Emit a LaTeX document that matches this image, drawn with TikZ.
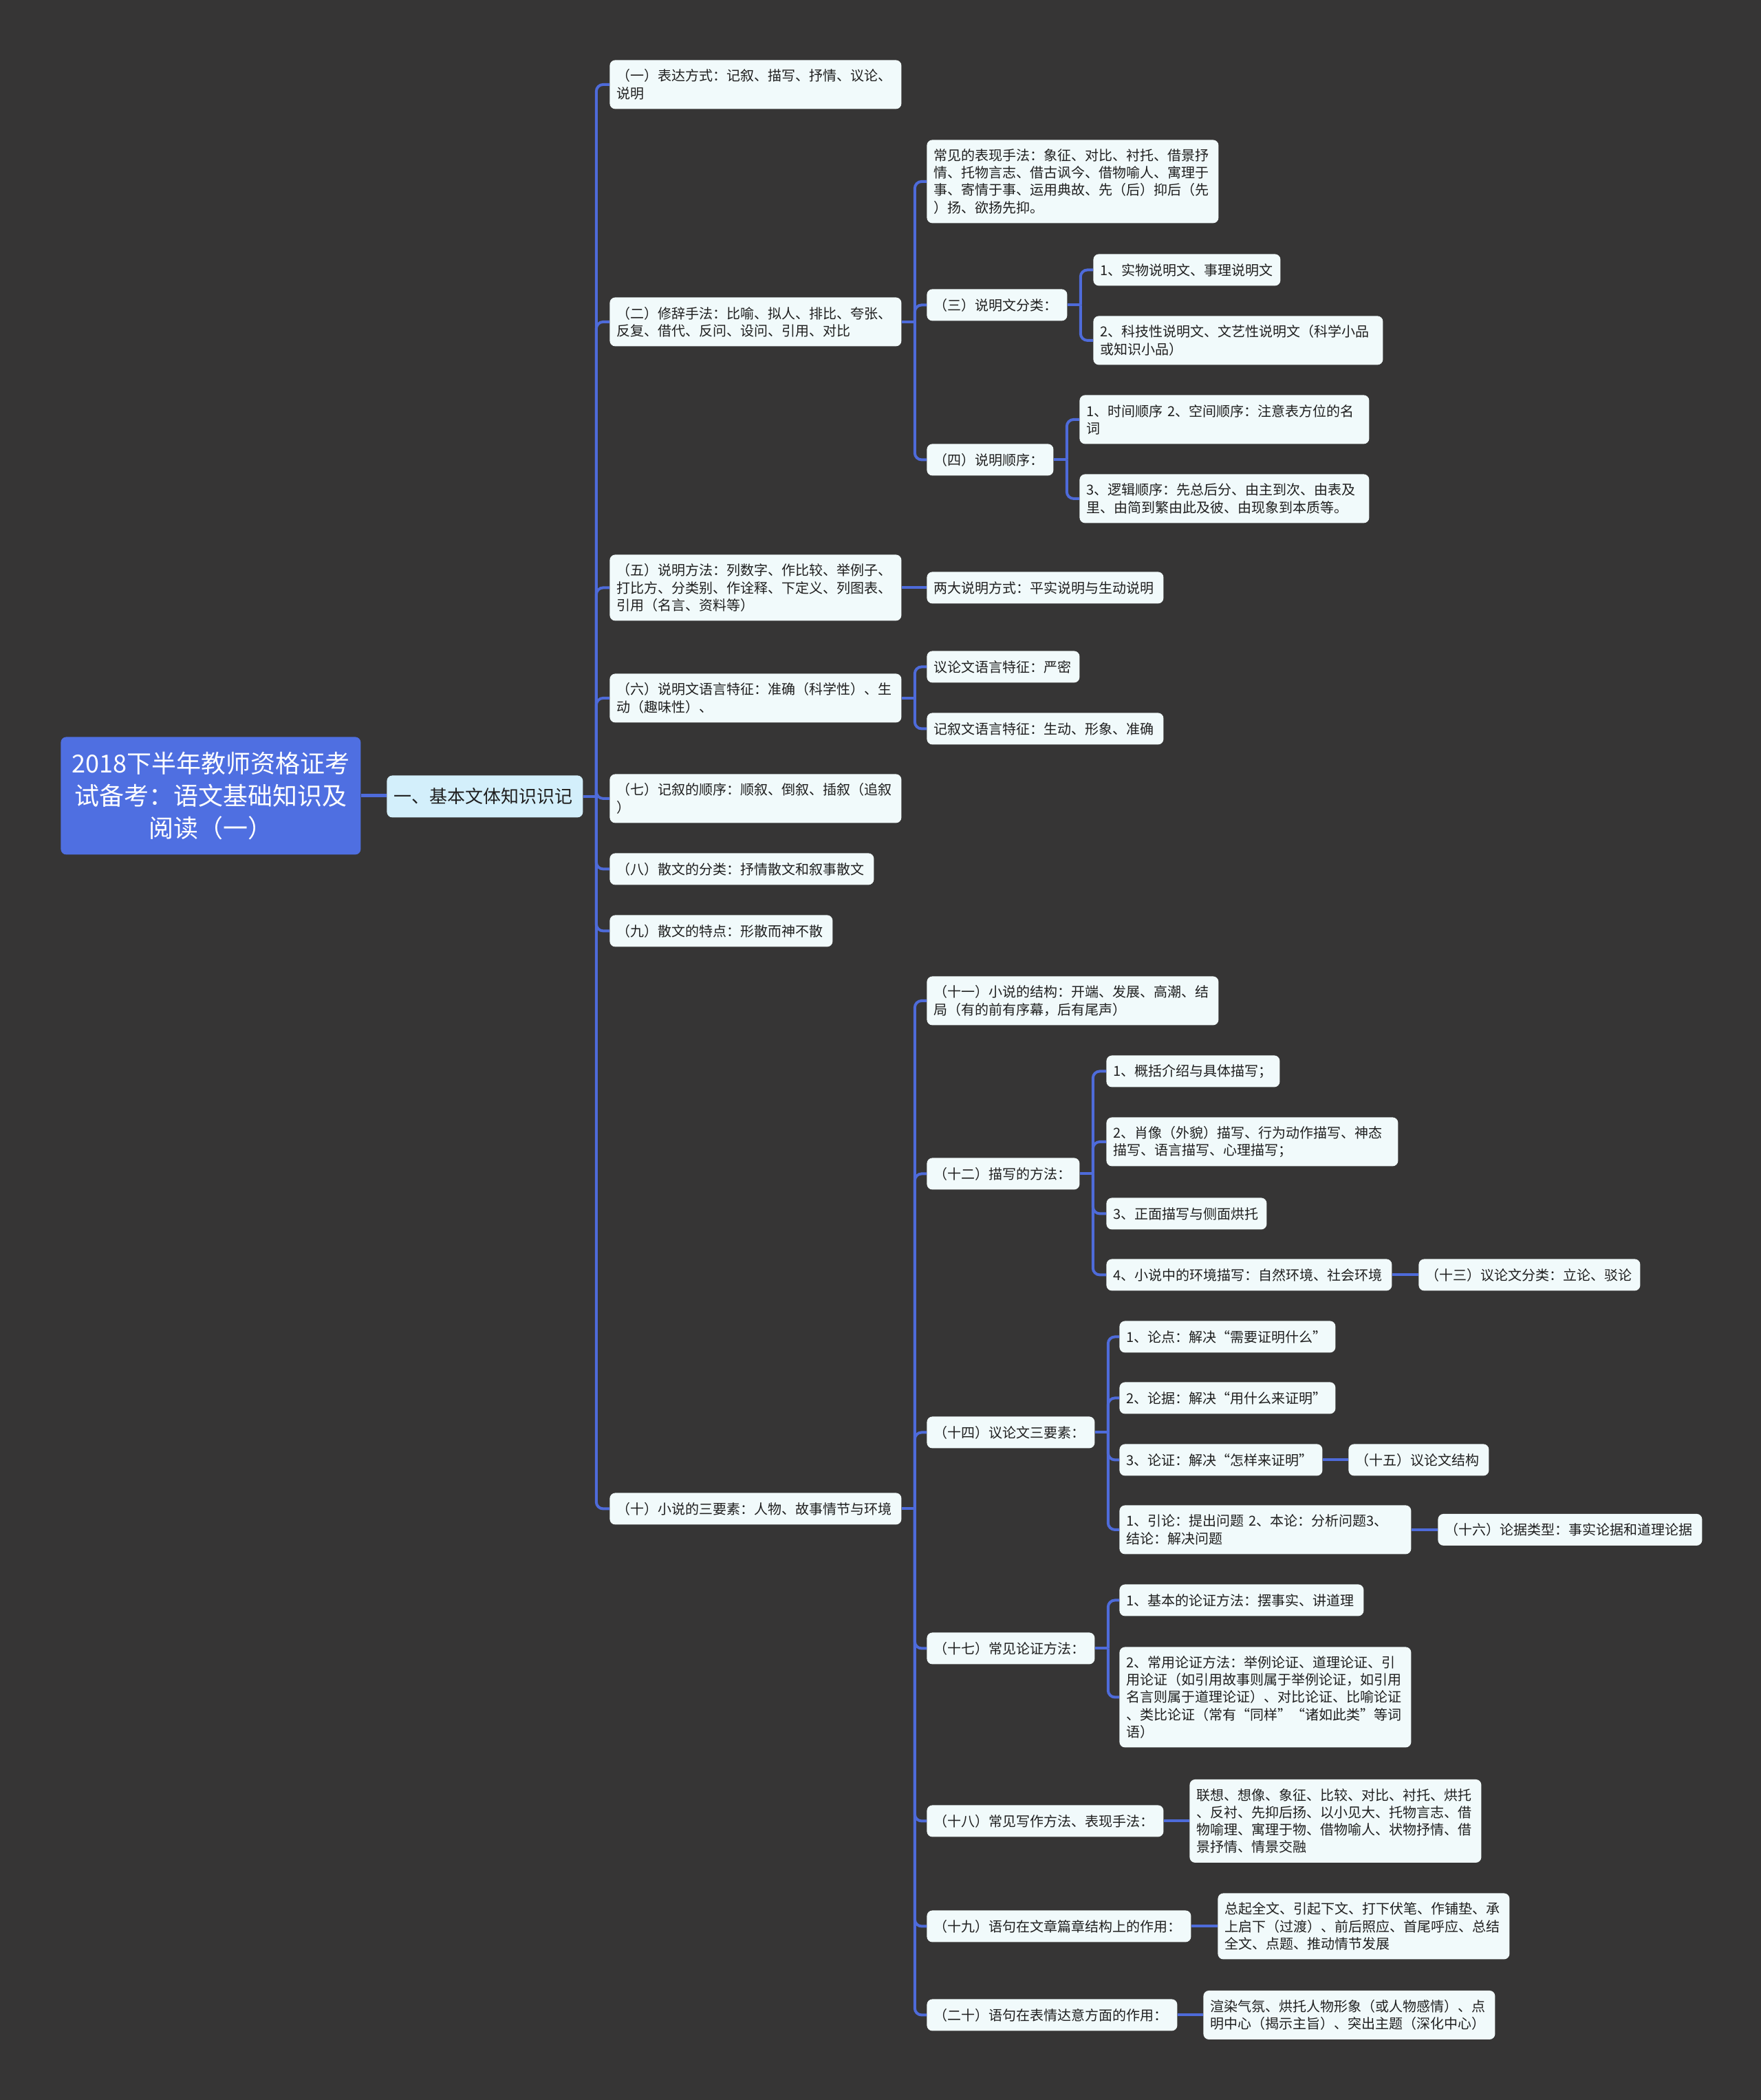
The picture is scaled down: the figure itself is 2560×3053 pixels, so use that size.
\documentclass[tikz,border=0pt]{standalone}
\usepackage{fontspec}
\newfontfamily\cjk{Noto Sans CJK SC}
\usetikzlibrary{calc}
\definecolor{bg}{HTML}{363535}
\definecolor{boxfill}{HTML}{F1FAFB}
\definecolor{lonefill}{HTML}{D3EFFB}
\definecolor{rootfill}{HTML}{4F6FE1}
\definecolor{linec}{HTML}{4E6BDA}
\definecolor{txt}{HTML}{1F1F1F}
\tikzset{
  box/.style={fill=boxfill, rounded corners=4pt, inner xsep=5pt, inner ysep=2pt, align=left, text=txt, font=\cjk\fontsize{10}{12.6}\selectfont},
  lonebox/.style={box, fill=lonefill, font=\cjk\fontsize{13}{16}\selectfont},
  rootbox/.style={box, fill=rootfill, text=white, align=center, font=\cjk\fontsize{18}{23.5}\selectfont},
  conn/.style={draw=linec, line width=2pt},
}
\newcommand\bx[7][box]{%
  \pgfmathsetmacro\bxtw{#5*0.5-10}%
  \node[#1, anchor=north west, minimum width={#5*0.5pt}, minimum height={#6*0.5pt}, text width=\bxtw pt] (#2) at (#3,#4) {#7};}
\newcommand\kids[2]{%
  \draw[conn] (#1.east) -- ++(19,0) coordinate (#1-s);
  \foreach \c in {#2} {\draw[conn, rounded corners=5pt] (#1-s) |- (\c.west);}}
\newcommand\onekid[2]{\draw[conn] (#1.east) -- (#1.east -| #2.west);}
\begin{document}
\begin{tikzpicture}[x=0.5pt,y=-0.5pt]
\fill[bg] (0,0) rectangle (2560,3053);
\useasboundingbox (0,0) rectangle (2560,3053);
% root and level 1
\bx[rootbox]{root}{88}{1071}{436}{171}{2018下半年教师资格证考\\试备考：语文基础知识及\\阅读（一）}
\bx[lonebox]{L1}{562}{1127}{285}{61}{一、基本文体知识识记}
% level 2
\bx{a1}{886}{87}{424}{71}{（一）表达方式：记叙、描写、抒情、议论、\\说明}
\bx{a2}{886}{432}{424}{71}{（二）修辞手法：比喻、拟人、排比、夸张、\\反复、借代、反问、设问、引用、对比}
\bx{a5}{886}{806}{424}{96}{（五）说明方法：列数字、作比较、举例子、\\打比方、分类别、作诠释、下定义、列图表、\\引用（名言、资料等）}
\bx{a6}{886}{979}{424}{71}{（六）说明文语言特征：准确（科学性）、生\\动（趣味性）、}
\bx{a7}{886}{1125}{424}{71}{（七）记叙的顺序：顺叙、倒叙、插叙（追叙\\）}
\bx{a8}{886}{1240}{384}{46}{（八）散文的分类：抒情散文和叙事散文}
\bx{a9}{886}{1330}{324}{46}{（九）散文的特点：形散而神不散}
\bx{a10}{886}{2170}{424}{46}{（十）小说的三要素：人物、故事情节与环境}
% under (二)
\bx{b1}{1347}{203}{424}{121}{常见的表现手法：象征、对比、衬托、借景抒\\情、托物言志、借古讽今、借物喻人、寓理于\\事、寄情于事、运用典故、先（后）抑后（先\\）扬、欲扬先抑。}
\bx{b3}{1347}{420}{204}{46}{（三）说明文分类：}
\bx{b4}{1347}{645}{184}{46}{（四）说明顺序：}
\bx{c31}{1589}{369}{272}{46}{1、实物说明文、事理说明文}
\bx{c32}{1589}{459}{421}{71}{2、科技性说明文、文艺性说明文（科学小品\\或知识小品）}
\bx{c41}{1569}{574}{421}{71}{1、时间顺序 2、空间顺序：注意表方位的名\\词}
\bx{c42}{1569}{689}{421}{71}{3、逻辑顺序：先总后分、由主到次、由表及\\里、由简到繁由此及彼、由现象到本质等。}
% under (五), (六)
\bx{b5}{1347}{831}{344}{46}{两大说明方式：平实说明与生动说明}
\bx{b61}{1347}{946}{222}{46}{议论文语言特征：严密}
\bx{b62}{1347}{1036}{344}{46}{记叙文语言特征：生动、形象、准确}
% under (十)
\bx{d11}{1347}{1419}{424}{71}{（十一）小说的结构：开端、发展、高潮、结\\局（有的前有序幕，后有尾声）}
\bx{d12}{1347}{1683}{222}{46}{（十二）描写的方法：}
\bx{d14}{1347}{2059}{244}{46}{（十四）议论文三要素：}
\bx{d17}{1347}{2373}{244}{46}{（十七）常见论证方法：}
\bx{d18}{1347}{2624}{344}{46}{（十八）常见写作方法、表现手法：}
\bx{d19}{1347}{2777}{384}{46}{（十九）语句在文章篇章结构上的作用：}
\bx{d20}{1347}{2906}{364}{46}{（二十）语句在表情达意方面的作用：}
% under (十二)
\bx{e1}{1608}{1534}{252}{46}{1、概括介绍与具体描写；}
\bx{e2}{1608}{1624}{424}{71}{2、肖像（外貌）描写、行为动作描写、神态\\描写、语言描写、心理描写；}
\bx{e3}{1608}{1741}{233}{46}{3、正面描写与侧面烘托}
\bx{e4}{1608}{1830}{415}{46}{4、小说中的环境描写：自然环境、社会环境}
\bx{e13}{2062}{1830}{322}{46}{（十三）议论文分类：立论、驳论}
% under (十四)
\bx{f1}{1627}{1920}{314}{46}{1、论点：解决“需要证明什么”}
\bx{f2}{1627}{2009}{314}{46}{2、论据：解决“用什么来证明”}
\bx{f3}{1627}{2099}{295}{46}{3、论证：解决“怎样来证明”}
\bx{f15}{1960}{2099}{204}{46}{（十五）议论文结构}
\bx{f4}{1627}{2188}{424}{71}{1、引论：提出问题 2、本论：分析问题3、\\结论：解决问题}
\bx{f16}{2090}{2200.5}{384}{46}{（十六）论据类型：事实论据和道理论据}
% under (十七)
\bx{g1}{1627}{2303}{355}{46}{1、基本的论证方法：摆事实、讲道理}
\bx{g2}{1627}{2394}{424}{146}{2、常用论证方法：举例论证、道理论证、引\\用论证（如引用故事则属于举例论证，如引用\\名言则属于道理论证）、对比论证、比喻论证\\、类比论证（常有“同样”“诸如此类”等词\\语）}
% under (十八)-(二十)
\bx{h18}{1729}{2586.5}{424}{121}{联想、想像、象征、比较、对比、衬托、烘托\\、反衬、先抑后扬、以小见大、托物言志、借\\物喻理、寓理于物、借物喻人、状物抒情、借\\景抒情、情景交融}
\bx{h19}{1770}{2752}{424}{96}{总起全文、引起下文、打下伏笔、作铺垫、承\\上启下（过渡）、前后照应、首尾呼应、总结\\全文、点题、推动情节发展}
\bx{h20}{1749}{2893.5}{424}{71}{渲染气氛、烘托人物形象（或人物感情）、点\\明中心（揭示主旨）、突出主题（深化中心）}
% connectors
\draw[conn, line width=2.5pt] (root.east) -- (root.east -| L1.west);
\kids{L1}{a1,a2,a5,a6,a7,a8,a9,a10}
\kids{a2}{b1,b3,b4}
\kids{b3}{c31,c32}
\kids{b4}{c41,c42}
\onekid{a5}{b5}
\kids{a6}{b61,b62}
\kids{a10}{d11,d12,d14,d17,d18,d19,d20}
\kids{d12}{e1,e2,e3,e4}
\onekid{e4}{e13}
\kids{d14}{f1,f2,f3,f4}
\onekid{f3}{f15}
\onekid{f4}{f16}
\kids{d17}{g1,g2}
\onekid{d18}{h18}
\onekid{d19}{h19}
\onekid{d20}{h20}
\end{tikzpicture}
\end{document}
